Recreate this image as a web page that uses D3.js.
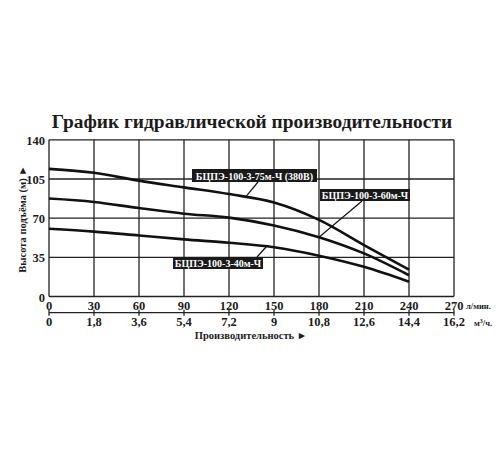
<!DOCTYPE html>
<html>
<head>
<meta charset="utf-8">
<script src="https://cdn.jsdelivr.net/npm/d3@7"></script>
<style>
  html, body { margin: 0; padding: 0; background: #fff; }
  svg { display: block; }
  text { font-family: "Liberation Serif", "DejaVu Serif", serif; font-weight: bold; fill: #1c1c1c; }
</style>
</head>
<body>
<script>
// Flow in l/min and the matching m3/h labels
const flowLpm = [0, 30, 60, 90, 120, 150, 180, 210, 240];
const flowTicks = [0, 30, 60, 90, 120, 150, 180, 210, 240, 270];
const flowM3Labels = ['0', '1,8', '3,6', '5,4', '7,2', '9', '10,8', '12,6', '14,4', '16,2'];
const headTicks = [0, 35, 70, 105, 140];

// Head (m) for each pump
const head75 = [114, 110.5, 103.5, 97.5, 91.5, 84, 68.5, 46, 24];
const head60 = [87.5, 84.5, 79, 74, 70.5, 63.5, 53, 38.5, 19];
const head40 = [60.5, 58, 54.5, 51, 48, 44, 36.5, 26.5, 13.2];

const pumpNames = ['БЦПЭ-100-3-75м-Ч (380В)', 'БЦПЭ-100-3-60м-Ч', 'БЦПЭ-100-3-40м-Ч'];
const pumpHeads = [head75, head60, head40];

const width = 500, height = 450;
const svg = d3.select('body').append('svg')
    .attr('width', width)
    .attr('height', height);

const x = d3.scaleLinear().domain([0, 270]).range([49, 454]);
const y = d3.scaleLinear().domain([0, 140]).range([296.5, 139.8]);

// title
svg.append('text')
    .attr('x', 252).attr('y', 128)
    .attr('text-anchor', 'middle')
    .style('font-size', '19.4px')
    .text('График гидравлической производительности');

// grid
const grid = svg.append('g').attr('stroke', '#222').attr('stroke-width', 1.3);
grid.selectAll('line.v').data(flowTicks).join('line')
    .attr('x1', d => x(d)).attr('x2', d => x(d))
    .attr('y1', y(0)).attr('y2', y(140));
grid.selectAll('line.h').data(headTicks).join('line')
    .attr('x1', x(0)).attr('x2', x(270))
    .attr('y1', d => y(d)).attr('y2', d => y(d));

// y tick labels
svg.selectAll('text.ytick').data(headTicks).join('text')
    .attr('x', 45).attr('y', d => y(d) + 5)
    .attr('text-anchor', 'end')
    .style('font-size', '12.5px')
    .text(d => d);

// y title
svg.append('text')
    .attr('transform', `translate(26,219) rotate(-90)`)
    .attr('text-anchor', 'middle')
    .style('font-size', '10.5px')
    .text('Высота подъёма (м) ►');

// x axes: l/min on top, m3/h below with its own line
svg.selectAll('text.xtop').data(flowTicks).join('text')
    .attr('x', d => x(d)).attr('y', 309.5)
    .attr('text-anchor', 'middle')
    .style('font-size', '12.5px')
    .text(d => d);

const axisY = 312.7;
svg.append('line')
    .attr('x1', x(0)).attr('x2', x(270))
    .attr('y1', axisY).attr('y2', axisY)
    .attr('stroke', '#222').attr('stroke-width', 1.3);
svg.selectAll('line.xt').data(flowTicks).join('line')
    .attr('x1', d => x(d)).attr('x2', d => x(d))
    .attr('y1', axisY - 3).attr('y2', axisY + 3)
    .attr('stroke', '#222').attr('stroke-width', 1.3);

svg.selectAll('text.xbot').data(flowTicks).join('text')
    .attr('x', d => x(d)).attr('y', 325.5)
    .attr('text-anchor', 'middle')
    .style('font-size', '12.5px')
    .text((d, i) => flowM3Labels[i]);

svg.append('text')
    .attr('x', x(270) + 12).attr('y', 309)
    .style('font-size', '8.5px')
    .text('л/мин.');
svg.append('text')
    .attr('x', x(270) + 20).attr('y', 325.5)
    .style('font-size', '8.5px')
    .html('м<tspan dy="-3" style="font-size:6px">3</tspan><tspan dy="3">/ч.</tspan>');

svg.append('text')
    .attr('x', 251).attr('y', 339)
    .attr('text-anchor', 'middle')
    .style('font-size', '10.5px')
    .text('Производительность ►');

// curves
const line = d3.line()
    .x((d, i) => x(flowLpm[i]))
    .y(d => y(d))
    .curve(d3.curveCatmullRom.alpha(0.5));

svg.selectAll('path.curve').data(pumpHeads).join('path')
    .attr('d', line)
    .attr('fill', 'none')
    .attr('stroke', '#111')
    .attr('stroke-width', 2.6);

// labels: box rect in px, leader from box edge to a flow value on the curve
const labelBoxes = [
    { x0: 192, y0: 169, w: 125, h: 13, from: [258, 182], q: 131 },
    { x0: 320, y0: 189, w: 90, h: 12, from: [362, 201], q: 180 },
    { x0: 173, y0: 257, w: 90, h: 12, from: [257, 257], q: 145 }
];

const interp = (arr, q) => {
    const i = Math.min(Math.floor(q / 30), arr.length - 2);
    const t = (q - flowLpm[i]) / 30;
    return arr[i] + (arr[i + 1] - arr[i]) * t;
};

labelBoxes.forEach((b, k) => {
    svg.append('line')
        .attr('x1', b.from[0]).attr('y1', b.from[1])
        .attr('x2', x(b.q)).attr('y2', y(interp(pumpHeads[k], b.q)))
        .attr('stroke', '#111').attr('stroke-width', 1.2);
    svg.append('rect')
        .attr('x', b.x0).attr('y', b.y0)
        .attr('width', b.w).attr('height', b.h)
        .attr('fill', '#1a1a1a');
    svg.append('text')
        .attr('x', b.x0 + b.w / 2).attr('y', b.y0 + b.h - 2.5)
        .attr('text-anchor', 'middle')
        .style('font-size', '10px')
        .style('fill', '#fff')
        .text(pumpNames[k]);
});
</script>
</body>
</html>
